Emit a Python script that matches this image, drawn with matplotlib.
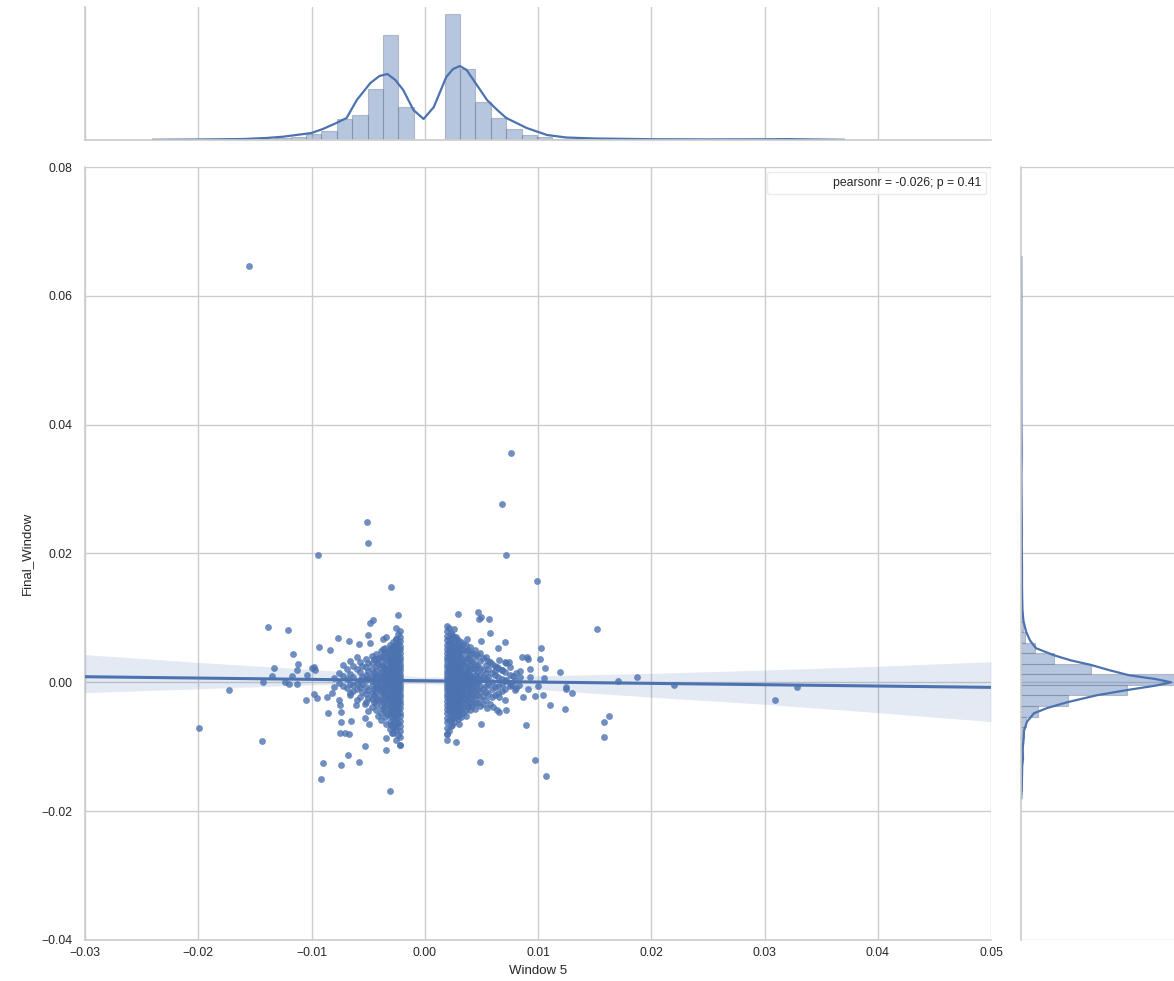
import numpy as np
import matplotlib.pyplot as plt
from matplotlib.patches import Rectangle

plt.rcParams['font.family'] = ['Liberation Sans', 'DejaVu Sans']

blue = '#4C72B0'
grid_c = '#cccccc'
text_c = '#262626'

# scattered points (Window 5, Final_Window)
outlier_x = [-0.0155, 0.0076, 0.0068, -0.0051, -0.0050, -0.0094, 0.0072, 0.0099, -0.0030, -0.0024,
             -0.0046, -0.0048, -0.0138, -0.0121, 0.0152, -0.0199, -0.0144, -0.0173, -0.0092, -0.0031,
             0.0107, 0.0097, 0.0049, 0.0028, 0.0158, 0.0158, 0.0163, 0.0124, 0.0187, 0.0220,
             0.0171, 0.0309, 0.0329, -0.0090, -0.0074, -0.0058, -0.0068, -0.0053, -0.0034, -0.0022,
             -0.0034, -0.0029, -0.0075, -0.0070, -0.0067, -0.0074, -0.0065, -0.0085, -0.0074, -0.0075,
             -0.0076, -0.0105, -0.0098, -0.0095, -0.0086, -0.0082, -0.0053, -0.0049, -0.0034, -0.0028,
             -0.0061, -0.0053, -0.0066, -0.0077, -0.0067, -0.0058, -0.0093, -0.0084, -0.0050, -0.0048,
             -0.0037, -0.0034, -0.0025, -0.0116, -0.0112, -0.0133, -0.0113, -0.0135, -0.0143, -0.0117,
             -0.0120, -0.0113, -0.0104, -0.0098, -0.0097, -0.0123, -0.0100,
             0.0029, 0.0047, 0.0050, 0.0048, 0.0057, 0.0026, 0.0028, 0.0058, 0.0050, 0.0037,
             0.0071, 0.0065, 0.0103, 0.0086, 0.0090, 0.0091, 0.0102, 0.0071, 0.0074, 0.0106,
             0.0093, 0.0084, 0.0119, 0.0105, 0.0093, 0.0125, 0.0125, 0.0130, 0.0100, 0.0091,
             0.0097, 0.0104, 0.0111, 0.0089, 0.0072, 0.0066, 0.0060, 0.0050, 0.0030, 0.0020,
             0.0087, 0.0081, 0.0083, 0.0077, 0.0078, 0.0081, 0.0084, 0.0072, 0.0068, 0.0075,
             0.0062, 0.0068, 0.0064, 0.0058, 0.0066, 0.0072, 0.0071, 0.0066, 0.0064, 0.0055,
             0.0058]
outlier_y = [0.0646, 0.0356, 0.0277, 0.0249, 0.0216, 0.0198, 0.0198, 0.0158, 0.0148, 0.0104,
             0.0096, 0.0092, 0.0086, 0.0082, 0.0083, -0.0071, -0.0091, -0.0012, -0.0150, -0.0168,
             -0.0145, -0.0120, -0.0123, -0.0093, -0.0085, -0.0062, -0.0053, -0.0042, 0.0009, -0.0004,
             0.0002, -0.0027, -0.0007, -0.0125, -0.0128, -0.0124, -0.0113, -0.0099, -0.0105, -0.0097,
             -0.0087, -0.0079, -0.0079, -0.0078, -0.0080, -0.0062, -0.0060, -0.0047, -0.0046, -0.0035,
             -0.0027, -0.0027, -0.0018, -0.0025, -0.0022, -0.0016, -0.0056, -0.0064, -0.0064, -0.0069,
             -0.0035, -0.0033, -0.0020, 0.0069, 0.0064, 0.0059, 0.0055, 0.0050, 0.0073, 0.0061,
             0.0068, 0.0071, 0.0067, 0.0044, 0.0028, 0.0023, 0.0019, 0.0010, 0.0001, 0.0010,
             -0.0002, -0.0003, 0.0011, 0.0024, 0.0019, 0.0001, 0.0023,
             0.0106, 0.0109, 0.0102, 0.0098, 0.0098, 0.0083, 0.0071, 0.0076, 0.0064, 0.0067,
             0.0062, 0.0053, 0.0053, 0.0039, 0.0039, 0.0036, 0.0036, 0.0032, 0.0032, 0.0023,
             0.0021, 0.0017, 0.0016, 0.0006, 0.0009, -0.0007, -0.0011, -0.0016, -0.0006, -0.0011,
             -0.0021, -0.0019, -0.0035, -0.0067, -0.0043, -0.0046, -0.0039, -0.0065, -0.0065, -0.0080,
             -0.0023, -0.0009, -0.0004, -0.0004, 0.0010, 0.0014, 0.0009, 0.0004, -0.0002, -0.0001,
             0.0017, 0.0019, 0.0024, 0.0032, 0.0035, 0.0030, -0.0027, -0.0022, -0.0043, -0.0040,
             -0.0033]

# dense clusters, column x -> y values
left_cluster = [
    (-0.0022, [0.0080, 0.0071, 0.0064, 0.0057, 0.0051, 0.0046, 0.0040, 0.0035, 0.0029, 0.0024, 0.0019,
               0.0013, 0.0008, 0.0003, -0.0002, -0.0007, -0.0012, -0.0018, -0.0023, -0.0029, -0.0034,
               -0.0040, -0.0047, -0.0053, -0.0060, -0.0068, -0.0076, -0.0085, -0.0097]),
    (-0.00235, [0.0075, 0.0061, 0.0052, 0.0043, 0.0033, 0.0022, 0.0017, 0.0011, 0.0006, 0.0001, -0.0003,
                -0.0009, -0.0014, -0.0020, -0.0026, -0.0031, -0.0042, -0.0049, -0.0063, -0.0081]),
    (-0.0025, [0.0085, 0.0068, 0.0060, 0.0053, 0.0047, 0.0041, 0.0036, 0.0030, 0.0025, 0.0020, 0.0015,
               0.0010, 0.0005, 0.0000, -0.0005, -0.0010, -0.0015, -0.0021, -0.0026, -0.0032, -0.0038,
               -0.0044, -0.0051, -0.0058, -0.0066, -0.0074, -0.0089]),
    (-0.00265, [0.0058, 0.0045, 0.0034, 0.0028, 0.0018, 0.0012, 0.0003, -0.0002, -0.0007, -0.0017,
                -0.0023, -0.0029, -0.0035, -0.0047, -0.0055, -0.0070]),
    (-0.0028, [0.0062, 0.0055, 0.0048, 0.0042, 0.0036, 0.0031, 0.0026, 0.0021, 0.0016, 0.0011, 0.0006,
               0.0001, -0.0004, -0.0009, -0.0014, -0.0019, -0.0025, -0.0031, -0.0037, -0.0043, -0.0050,
               -0.0057, -0.0064, -0.0078]),
    (-0.00295, [0.0053, 0.0039, 0.0029, 0.0023, 0.0010, 0.0004, -0.0006, -0.0011, -0.0022, -0.0028,
                -0.0041, -0.0049, -0.0066]),
    (-0.0031, [0.0058, 0.0050, 0.0043, 0.0037, 0.0031, 0.0025, 0.0019, 0.0014, 0.0008, 0.0003, -0.0002,
               -0.0008, -0.0013, -0.0019, -0.0025, -0.0031, -0.0038, -0.0045, -0.0053, -0.0061, -0.0072]),
    (-0.0033, [0.0047, 0.0034, 0.0021, 0.0012, 0.0001, -0.0005, -0.0016, -0.0024, -0.0033, -0.0049]),
    (-0.0035, [0.0054, 0.0045, 0.0037, 0.0029, 0.0022, 0.0016, 0.0010, 0.0004, -0.0002, -0.0008, -0.0014,
               -0.0021, -0.0028, -0.0036, -0.0044, -0.0054]),
    (-0.0037, [0.0051, 0.0041, 0.0026, 0.0013, 0.0005, -0.0009, -0.0017, -0.0031, -0.0041]),
    (-0.0039, [0.0048, 0.0039, 0.0031, 0.0023, 0.0016, 0.0009, 0.0002, -0.0005, -0.0012, -0.0020, -0.0028,
               -0.0037, -0.0047, -0.0058]),
    (-0.0041, [0.0038, 0.0028, 0.0012, -0.0003, -0.0011, -0.0028, -0.0052]),
    (-0.0043, [0.0044, 0.0034, 0.0025, 0.0017, 0.0008, 0.0001, -0.0007, -0.0015, -0.0024, -0.0033, -0.0043]),
    (-0.0045, [0.0036, 0.0015, 0.0005, -0.0011, -0.0020, -0.0031]),
    (-0.0047, [0.0041, 0.0030, 0.0020, 0.0010, 0.0002, -0.0006, -0.0016, -0.0026, -0.0038]),
    (-0.0050, [0.0030, 0.0018, 0.0007, -0.0012, -0.0024, -0.0044]),
    (-0.0052, [0.0036, 0.0024, 0.0012, 0.0003, -0.0007, -0.0018, -0.0030]),
    (-0.0055, [0.0026, 0.0009, -0.0003, -0.0015]),
    (-0.0057, [0.0031, 0.0016, 0.0004, -0.0008, -0.0022]),
    (-0.0060, [0.0040, 0.0020, -0.0001, -0.0010, -0.0027]),
    (-0.0063, [0.0026, 0.0009, -0.0004, -0.0013]),
    (-0.0066, [0.0013, -0.0002, -0.0016, 0.0033]),
    (-0.0069, [0.0020, 0.0005, -0.0009]),
    (-0.0072, [0.0010, -0.0005, 0.0027]),
    (-0.0076, [0.0015, -0.0001]),
    (-0.0080, [0.0006, -0.0008]),
]
right_cluster = [
    (0.0020, [0.0088, 0.0080, 0.0072, 0.0065, 0.0058, 0.0052, 0.0046, 0.0040, 0.0034, 0.0029, 0.0024,
              0.0018, 0.0013, 0.0008, 0.0003, -0.0002, -0.0007, -0.0012, -0.0018, -0.0023, -0.0029,
              -0.0035, -0.0041, -0.0048, -0.0055, -0.0062, -0.0071, -0.0080, -0.0090]),
    (0.00215, [0.0084, 0.0069, 0.0061, 0.0049, 0.0043, 0.0037, 0.0026, 0.0021, 0.0016, 0.0005, 0.0000,
               -0.0005, -0.0010, -0.0015, -0.0021, -0.0026, -0.0032, -0.0038, -0.0045, -0.0058, -0.0075]),
    (0.0023, [0.0076, 0.0068, 0.0061, 0.0054, 0.0048, 0.0042, 0.0036, 0.0031, 0.0025, 0.0020, 0.0015,
              0.0010, 0.0005, 0.0000, -0.0005, -0.0010, -0.0015, -0.0020, -0.0026, -0.0032, -0.0038,
              -0.0044, -0.0051, -0.0059, -0.0068]),
    (0.00245, [0.0073, 0.0058, 0.0051, 0.0039, 0.0033, 0.0023, 0.0018, 0.0008, 0.0003, -0.0002, -0.0007,
               -0.0012, -0.0017, -0.0023, -0.0029, -0.0035, -0.0041, -0.0048, -0.0056, -0.0066]),
    (0.0026, [0.0071, 0.0063, 0.0056, 0.0049, 0.0043, 0.0037, 0.0031, 0.0026, 0.0021, 0.0016, 0.0011,
              0.0006, 0.0001, -0.0004, -0.0009, -0.0014, -0.0019, -0.0025, -0.0031, -0.0037, -0.0044,
              -0.0052, -0.0061]),
    (0.00275, [0.0068, 0.0053, 0.0046, 0.0034, 0.0029, 0.0019, 0.0013, 0.0004, -0.0001, -0.0007, -0.0012,
               -0.0018, -0.0024, -0.0031, -0.0038, -0.0046, -0.0054]),
    (0.0029, [0.0066, 0.0058, 0.0051, 0.0044, 0.0038, 0.0032, 0.0027, 0.0021, 0.0016, 0.0011, 0.0006,
              0.0001, -0.0004, -0.0009, -0.0015, -0.0021, -0.0027, -0.0034, -0.0041, -0.0049, -0.0057]),
    (0.00305, [0.0057, 0.0048, 0.0041, 0.0029, 0.0023, 0.0014, 0.0009, 0.0004, -0.0006, -0.0012, -0.0018,
               -0.0025, -0.0032, -0.0040, -0.0051]),
    (0.0032, [0.0062, 0.0053, 0.0045, 0.0038, 0.0031, 0.0025, 0.0019, 0.0013, 0.0007, 0.0002, -0.0003,
              -0.0009, -0.0015, -0.0021, -0.0028, -0.0036, -0.0045, -0.0054]),
    (0.0034, [0.0060, 0.0050, 0.0035, 0.0028, 0.0016, 0.0010, 0.0003, -0.0003, -0.0009, -0.0016, -0.0023,
              -0.0031, -0.0039, -0.0048]),
    (0.0036, [0.0058, 0.0048, 0.0040, 0.0032, 0.0025, 0.0018, 0.0012, 0.0006, 0.0000, -0.0006, -0.0012,
              -0.0019, -0.0026, -0.0034, -0.0043, -0.0052]),
    (0.0038, [0.0050, 0.0037, 0.0022, 0.0015, 0.0008, -0.0005, -0.0013, -0.0020, -0.0029, -0.0038]),
    (0.0040, [0.0055, 0.0044, 0.0035, 0.0027, 0.0019, 0.0012, 0.0005, -0.0002, -0.0009, -0.0016, -0.0024,
              -0.0033, -0.0043]),
    (0.0042, [0.0046, 0.0032, 0.0023, 0.0008, 0.0000, -0.0008, -0.0017, -0.0026, -0.0036]),
    (0.0044, [0.0050, 0.0039, 0.0029, 0.0020, 0.0012, 0.0004, -0.0004, -0.0012, -0.0021, -0.0031, -0.0041]),
    (0.0046, [0.0043, 0.0026, 0.0016, 0.0007, -0.0001, -0.0011, -0.0020, -0.0032]),
    (0.0049, [0.0045, 0.0033, 0.0022, 0.0012, 0.0003, -0.0006, -0.0015, -0.0026, -0.0037]),
    (0.0051, [0.0037, 0.0019, 0.0008, -0.0010, -0.0021, -0.0033]),
    (0.0054, [0.0040, 0.0027, 0.0015, 0.0005, -0.0005, -0.0015, -0.0028]),
    (0.0056, [0.0033, 0.0021, 0.0008, -0.0002, -0.0018]),
    (0.0059, [0.0028, 0.0014, 0.0001, -0.0011, -0.0023]),
    (0.0062, [0.0025, 0.0011, -0.0008, -0.0019]),
    (0.0065, [0.0022, 0.0008, -0.0005, -0.0016]),
    (0.0068, [0.0019, 0.0005, -0.0013]),
    (0.0071, [0.0016, 0.0002, -0.0010]),
    (0.0075, [0.0012, -0.0006, 0.0024]),
    (0.0080, [0.0004, -0.0012]),
]

# regression fit and confidence band as drawn
reg_x = [-0.03, 0.05]
reg_y = [0.00087, -0.00078]
ci_x = [-0.03, -0.02, -0.01, 0.0, 0.01, 0.02, 0.03, 0.04, 0.05]
ci_hi = [0.0043, 0.0031, 0.0020, 0.0008, 0.0010, 0.0014, 0.0019, 0.0025, 0.0032]
ci_lo = [-0.0016, -0.0010, -0.0004, -0.0002, -0.0011, -0.0023, -0.0034, -0.0047, -0.0061]

# top marginal: histogram (left edges, heights) and density curve
hx_width = 0.00136
hx_left = [-0.0200, -0.01864, -0.01728, -0.01592, -0.01456, -0.0132, -0.01184, -0.01048, -0.00912,
           -0.00776, -0.0064, -0.00504, -0.00368, -0.00232, -0.00096, 0.0004, 0.00176, 0.00312,
           0.00448, 0.00584, 0.0072, 0.00856, 0.00992, 0.01128, 0.01264, 0.014, 0.01536, 0.01672,
           0.01808, 0.01944, 0.0208, 0.02216, 0.02352, 0.02488, 0.02624, 0.0276, 0.02896, 0.03032,
           0.03168]
hx_height = [0.6, 0.3, 0.6, 0.5, 1, 2, 3, 6, 9, 21, 25, 51, 105, 33, 0, 0, 126, 71, 38, 22, 11, 5, 3,
             1.5, 1, 0.5, 1, 0.6, 0.6, 0, 0.5, 0.3, 0, 0, 0, 0, 0.4, 0.5, 0.5]
kx_x = [-0.0240, -0.0200, -0.0160, -0.0140, -0.0125, -0.0100, -0.0090, -0.0078, -0.0069, -0.0060,
        -0.0048, -0.0040, -0.0033, -0.0026, -0.0019, -0.0010, -0.0001, 0.0008, 0.0019, 0.0025,
        0.0031, 0.0037, 0.0043, 0.0055, 0.0064, 0.0072, 0.0090, 0.0108, 0.0125, 0.0150, 0.0200,
        0.0250, 0.0300, 0.0320, 0.0340, 0.0370]
kx_y = [0.2, 0.5, 1.0, 2.0, 3.3, 7, 11, 17, 22, 40, 57, 64, 66, 60, 50, 30, 21, 33, 63, 71,
        74, 70, 60, 40, 30, 22, 12, 5, 2.5, 1.5, 0.8, 0.6, 0.7, 0.9, 0.6, 0.2]

# right marginal: histogram (bottom edges, lengths) and density curve
hy_width = 0.00164
hy_bottom = [-0.0168, -0.01516, -0.01352, -0.01188, -0.01024, -0.0086, -0.00696, -0.00532, -0.00368,
             -0.00204, -0.0004, 0.00124, 0.00288, 0.00452, 0.00616, 0.0078, 0.00944, 0.01108, 0.01272,
             0.01436, 0.016, 0.01764, 0.01928, 0.02092, 0.02256, 0.0242, 0.02584, 0.02748]
hy_len = [0.5, 0.5, 1, 1.5, 2, 2.5, 5, 17, 47, 106, 160, 70, 33, 14, 4, 2, 1.5, 0.5, 0.5, 0.3, 0.5,
          0.3, 0.5, 0.3, 0.5, 0.3, 0.3, 0.4]
ky_y = [0.0660, 0.0600, 0.0500, 0.0400, 0.0360, 0.0320, 0.0280, 0.0250, 0.0210, 0.0180, 0.0150,
        0.0130, 0.0110, 0.0095, 0.0079, 0.0065, 0.0053, 0.0042, 0.0034, 0.0027, 0.0019, 0.0011,
        0.0005, 0.0000, -0.0005, -0.0012, -0.0020, -0.0031, -0.0040, -0.0048, -0.0061, -0.0075,
        -0.0090, -0.0105, -0.0118, -0.0130, -0.0145, -0.0160, -0.0180]
ky_x = [0.2, 0.3, 0.3, 0.4, 0.7, 0.4, 0.6, 0.8, 0.8, 1.0, 1.0, 1.2, 1.5, 2.5, 5, 9, 15, 33, 50, 70,
        88, 108, 135, 150, 135, 106, 76, 46, 26, 13, 6, 3, 2.5, 1.5, 2.0, 1.2, 1.0, 0.8, 0.3]

x_ticks = [-0.03, -0.02, -0.01, 0.00, 0.01, 0.02, 0.03, 0.04, 0.05]
y_ticks = [-0.04, -0.02, 0.00, 0.02, 0.04, 0.06, 0.08]

sx = list(outlier_x)
sy = list(outlier_y)
for cx, ys in left_cluster + right_cluster:
    sx += [cx] * len(ys)
    sy += ys

W, H = 1174, 981
fig = plt.figure(figsize=(W / 100, H / 100), dpi=100)
ax = fig.add_axes([85 / W, 41 / H, 906 / W, 773 / H])
ax_top = fig.add_axes([85 / W, 841 / H, 906 / W, 133 / H])
ax_right = fig.add_axes([1021 / W, 41 / H, 168 / W, 773 / H])

# joint plot
ax.scatter(sx, sy, s=24, color=blue, alpha=0.8, linewidths=0, zorder=2)
ax.fill_between(ci_x, ci_lo, ci_hi, color=blue, alpha=0.15, linewidth=0, zorder=3)
ax.plot(reg_x, reg_y, color=blue, lw=2.2, zorder=4)
ax.set_xlim(-0.03, 0.05)
ax.set_ylim(-0.04, 0.08)
ax.set_xticks(x_ticks)
ax.set_yticks(y_ticks)
ax.grid(True, color=grid_c, lw=1)
ax.set_axisbelow(True)
for s in ['top', 'right']:
    ax.spines[s].set_visible(False)
for s in ['left', 'bottom']:
    ax.spines[s].set_color(grid_c)
    ax.spines[s].set_linewidth(1.2)
ax.tick_params(length=0, labelsize=8.8, colors=text_c)
ax.tick_params(axis='y', pad=9)
ax.tick_params(axis='x', pad=5)
ax.set_xlabel('Window 5', fontsize=9.5, color=text_c, labelpad=4)
ax.set_ylabel('Final_Window', fontsize=9.5, color=text_c, labelpad=6)

h = Rectangle((0, 0), 1, 1, fill=False, edgecolor='none', visible=False)
leg = ax.legend([h], ['pearsonr = -0.026; p = 0.41'], loc='upper right', fontsize=8.8,
                frameon=True, handlelength=4.2, borderaxespad=0.4)
leg.get_frame().set_edgecolor('#e6e6e6')
leg.get_frame().set_facecolor('white')
for t in leg.get_texts():
    t.set_color(text_c)

# top marginal
ax_top.bar(hx_left, hx_height, width=hx_width, align='edge', color=blue, alpha=0.4,
           edgecolor='#6a7488', linewidth=0.8)
ax_top.plot(kx_x, kx_y, color=blue, lw=1.6)
ax_top.set_xlim(-0.03, 0.05)
ax_top.set_ylim(0, 133)
ax_top.set_xticks(x_ticks)
ax_top.xaxis.grid(True, color=grid_c, lw=1)
ax_top.yaxis.grid(False)
ax_top.set_axisbelow(True)
ax_top.tick_params(length=0, labelbottom=False, labelleft=False)
for s in ['top', 'right']:
    ax_top.spines[s].set_visible(False)
for s in ['left', 'bottom']:
    ax_top.spines[s].set_color(grid_c)
    ax_top.spines[s].set_linewidth(1.2)

# right marginal
ax_right.barh(hy_bottom, hy_len, height=hy_width, align='edge', color=blue, alpha=0.4,
              edgecolor='#6a7488', linewidth=0.8)
ax_right.plot(ky_x, ky_y, color=blue, lw=1.6)
ax_right.set_ylim(-0.04, 0.08)
ax_right.set_xlim(0, 168)
ax_right.set_yticks(y_ticks)
ax_right.yaxis.grid(True, color=grid_c, lw=1)
ax_right.xaxis.grid(False)
ax_right.set_axisbelow(True)
ax_right.tick_params(length=0, labelbottom=False, labelleft=False)
for s in ['top', 'right', 'bottom']:
    ax_right.spines[s].set_visible(False)
ax_right.spines['left'].set_color(grid_c)
ax_right.spines['left'].set_linewidth(1.2)

fig.savefig('out.png', dpi=100, facecolor='white')
